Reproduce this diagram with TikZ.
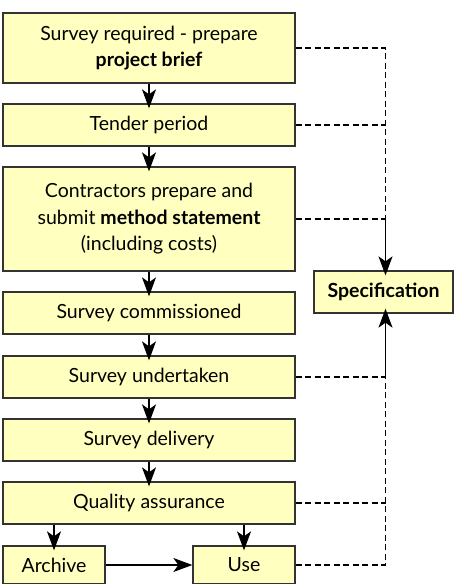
\documentclass[tikz,border=0pt]{standalone}
\usepackage{fontspec}
\setmainfont{Lato}
\usetikzlibrary{arrows.meta}
\definecolor{boxfill}{HTML}{FFFFC0}
\definecolor{boxline}{HTML}{333333}
\begin{document}
\begin{tikzpicture}[x=1pt,y=-1pt,
  box/.style={draw=boxline,fill=boxfill,line width=1.3pt,inner sep=0pt,align=center,
    font=\fontsize{19.5}{26.5}\selectfont,minimum width=292pt,minimum height=42pt},
  flow/.style={-{Stealth[length=19pt,width=14pt,inset=5pt]},line width=1.2pt,shorten >=-5pt},
  hflow/.style={-{Stealth[length=19pt,width=14pt,inset=5pt]},line width=1.2pt},
  dline/.style={line width=1.4pt,dash pattern=on 6pt off 3.5pt}]
\useasboundingbox (0,0) rectangle (454,584);
\node[box,minimum height=70pt] (b1) at (149,48) {Survey required - prepare\\\textbf{project brief}};
\node[box] (b2) at (149,125) {Tender period};
\node[box,minimum height=104pt] (b3) at (149,219) {Contractors prepare and\\submit \textbf{method statement}\\(including costs)};
\node[box] (b4) at (149,313) {Survey commissioned};
\node[box] (b5) at (149,377) {Survey undertaken};
\node[box] (b6) at (149,440) {Survey delivery};
\node[box] (b7) at (149,503) {Quality assurance};
\node[box,minimum width=102pt,minimum height=38pt] (arch) at (54,565) {Archive};
\node[box,minimum width=102pt,minimum height=38pt] (use) at (244,565) {Use};
\node[box,minimum width=139pt] (spec) at (383.5,292) {\textbf{Specification}};
\coordinate (bus) at (385.5,0);
\draw[flow] (b1) -- (b2);
\draw[flow] (b2) -- (b3);
\draw[flow] (b3) -- (b4);
\draw[flow] (b4) -- (b5);
\draw[flow] (b5) -- (b6);
\draw[flow] (b6) -- (b7);
\draw[flow] (b7.south -| arch) -- (arch);
\draw[flow] (b7.south -| use) -- (use);
\draw[hflow] (arch) -- (use);
\draw[dline] (b1.east) -- (b1.east -| bus) -- (b3.east -| bus);
\draw[dline] (b2.east) -- (b2.east -| bus);
\draw[dline] (b3.east) -- (b3.east -| bus);
\draw[dline] (b5.east) -- (b5.east -| bus);
\draw[dline] (b7.east) -- (b7.east -| bus);
\draw[dline] (use.east) -- (use.east -| bus) -- (b5.east -| bus);
\draw[flow] (b3.east -| bus) -- (bus |- spec.north);
\draw[flow] (b5.east -| bus) -- (bus |- spec.south);
\end{tikzpicture}
\end{document}
